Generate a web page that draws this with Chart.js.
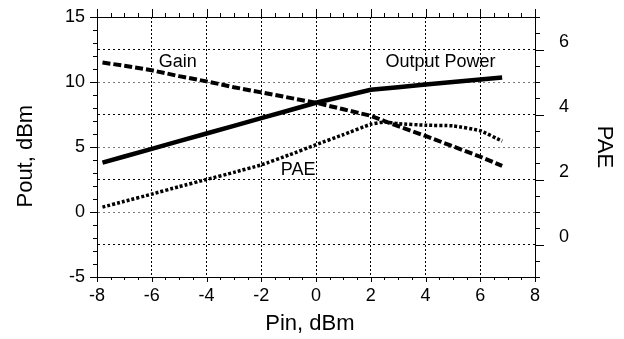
<!DOCTYPE html>
<html>
<head>
<meta charset="utf-8">
<script src="https://cdn.jsdelivr.net/npm/chart.js@4.4.1/dist/chart.umd.min.js"></script>
<style>
  body { margin: 0; background: #fff; }
  #chart { display: block; }
</style>
</head>
<body>
<canvas id="chart" width="624" height="339"></canvas>
<script>
// Pin, dBm
const pin = [-7.8, -7, -6, -5, -4, -3, -2, -1, 0, 1, 2, 2.5, 3, 4, 5, 6, 6.8];
// Pout, dBm (left axis)
const outputPower = [3.8, 4.27, 4.86, 5.45, 6.04, 6.63, 7.22, 7.81, 8.4, 8.9, 9.4, 9.5, 9.6, 9.8, 10.0, 10.2, 10.35];
// Gain, dB (left axis)
const gain = [11.5, 11.25, 10.9, 10.45, 10.05, 9.6, 9.2, 8.8, 8.4, 7.9, 7.4, 7.0, 6.6, 5.85, 5.05, 4.25, 3.55];
// PAE (right axis)
const pae = [1.15, 1.33, 1.55, 1.78, 2.0, 2.22, 2.45, 2.75, 3.07, 3.38, 3.7, 3.77, 3.72, 3.67, 3.65, 3.5, 3.18];

const leftTickLabels = [-5, 0, 5, 10, 15];
const rightTickLabels = [0, 2, 4, 6];
const xTickLabels = [-8, -6, -4, -2, 0, 2, 4, 6, 8];

// curve labels, in data coordinates of x / left axis
const notes = [
  { text: 'Gain', x: -5.05, y: 11.55 },
  { text: 'Output Power', x: 4.55, y: 11.5 },
  { text: 'PAE', x: -0.65, y: 3.25 }
];

const FONT = '"Liberation Sans", Arial, sans-serif';

function points(values) {
  return pin.map((x, i) => ({ x: x, y: values[i] }));
}

// fixed box sizes so the plot area matches the original frame
function fixWidth(w) {
  return s => { s.width = w; s.paddingTop = 0; s.paddingBottom = 0; };
}
function fixHeight(h) {
  return s => { s.height = h; s.paddingLeft = 0; s.paddingRight = 0; };
}

// tick marks outside the frame, long ones at labelled values
const frameTicks = {
  id: 'frameTicks',
  afterDraw(chart) {
    const { ctx, chartArea: a, scales } = chart;
    ctx.save();
    ctx.strokeStyle = '#000';
    ctx.lineWidth = 1;
    ctx.beginPath();
    scales.x.ticks.forEach(t => {
      const px = Math.round(scales.x.getPixelForValue(t.value)) + 0.5;
      const major = t.value % 2 === 0;
      ctx.moveTo(px, a.bottom);
      ctx.lineTo(px, a.bottom + (major ? 5 : 3));
      ctx.moveTo(px, a.top);
      ctx.lineTo(px, a.top - (major ? 8 : 4));
    });
    scales.y.ticks.forEach(t => {
      if (t.value % 1 !== 0) return;
      const py = Math.round(scales.y.getPixelForValue(t.value)) + 0.5;
      ctx.moveTo(a.left, py);
      ctx.lineTo(a.left - (t.value % 5 === 0 ? 7 : 4), py);
    });
    scales.y1.ticks.forEach(t => {
      const py = Math.round(scales.y1.getPixelForValue(t.value)) + 0.5;
      ctx.moveTo(a.right, py);
      ctx.lineTo(a.right + (t.value % 2 === 0 ? 9 : 5), py);
    });
    ctx.stroke();
    ctx.restore();
  }
};

const curveNotes = {
  id: 'curveNotes',
  afterDatasetsDraw(chart) {
    const { ctx, scales } = chart;
    ctx.save();
    ctx.fillStyle = '#000';
    ctx.font = '18px ' + FONT;
    ctx.textAlign = 'center';
    ctx.textBaseline = 'middle';
    notes.forEach(n => {
      ctx.fillText(n.text, scales.x.getPixelForValue(n.x), scales.y.getPixelForValue(n.y));
    });
    ctx.restore();
  }
};

const transparent = 'rgba(0,0,0,0)';

new Chart(document.getElementById('chart'), {
  type: 'line',
  data: {
    datasets: [
      {
        label: 'Output Power',
        data: points(outputPower),
        yAxisID: 'y',
        borderColor: '#000',
        borderWidth: 4.5,
        pointRadius: 0,
        tension: 0
      },
      {
        label: 'Gain',
        data: points(gain),
        yAxisID: 'y',
        borderColor: '#000',
        borderWidth: 4,
        borderDash: [8, 3],
        pointRadius: 0,
        tension: 0
      },
      {
        label: 'PAE',
        data: points(pae),
        yAxisID: 'y1',
        borderColor: '#000',
        borderWidth: 3.5,
        borderDash: [3, 2],
        pointRadius: 0,
        tension: 0.15
      }
    ]
  },
  options: {
    responsive: false,
    animation: false,
    devicePixelRatio: 1,
    layout: { padding: 0 },
    plugins: {
      legend: { display: false },
      tooltip: { enabled: false }
    },
    scales: {
      x: {
        type: 'linear',
        position: 'bottom',
        min: -8,
        max: 8,
        afterFit: fixHeight(62),
        ticks: {
          stepSize: 0.5,
          autoSkip: false,
          maxRotation: 0,
          padding: 8,
          color: '#000',
          font: { family: FONT, size: 18 },
          callback: v => xTickLabels.includes(v) ? String(v) : ''
        },
        grid: {
          drawTicks: false,
          lineWidth: 1,
          color: c => (c.tick && c.tick.value % 2 === 0 && Math.abs(c.tick.value) < 8) ? '#000' : transparent
        },
        border: { display: true, color: '#000', width: 1, dash: [2, 2] },
        title: {
          display: true,
          text: 'Pin, dBm  ',
          color: '#000',
          font: { family: FONT, size: 22 },
          padding: { top: 0, bottom: 2 }
        }
      },
      x2: {
        type: 'linear',
        position: 'top',
        min: -8,
        max: 8,
        afterFit: fixHeight(17),
        ticks: { display: false },
        grid: { display: false },
        border: { display: true, color: '#000', width: 1 }
      },
      y: {
        type: 'linear',
        position: 'left',
        min: -5,
        max: 15,
        afterFit: fixWidth(97),
        ticks: {
          stepSize: 0.5,
          autoSkip: false,
          padding: 12,
          color: '#000',
          font: { family: FONT, size: 18 },
          callback: v => leftTickLabels.includes(v) ? String(v) : ''
        },
        grid: {
          drawTicks: false,
          lineWidth: 1,
          color: c => {
            if (!c.tick) return transparent;
            const v = c.tick.value;
            if (v <= -5 || v >= 15) return transparent;
            if (v % 5 === 0) return '#7a7a7a';
            if (v % 2.5 === 0) return '#000';
            return transparent;
          }
        },
        border: { display: true, color: '#000', width: 1, dash: [2, 3] },
        title: {
          display: true,
          text: 'Pout, dBm   ',
          color: '#000',
          font: { family: FONT, size: 22 },
          padding: { top: 13, bottom: 0 }
        }
      },
      y1: {
        type: 'linear',
        position: 'right',
        min: -1,
        max: 7,
        afterFit: fixWidth(89),
        ticks: {
          stepSize: 0.5,
          autoSkip: false,
          padding: 24,
          labelOffset: -7,
          color: '#000',
          font: { family: FONT, size: 18 },
          callback: v => rightTickLabels.includes(v) ? String(v) : ''
        },
        grid: { display: false, drawOnChartArea: false, drawTicks: false },
        border: { display: true, color: '#000', width: 1 },
        title: {
          display: true,
          text: 'PAE',
          color: '#000',
          font: { family: FONT, size: 22 },
          padding: { top: 7, bottom: 0 }
        }
      }
    }
  },
  plugins: [frameTicks, curveNotes]
});
</script>
</body>
</html>
